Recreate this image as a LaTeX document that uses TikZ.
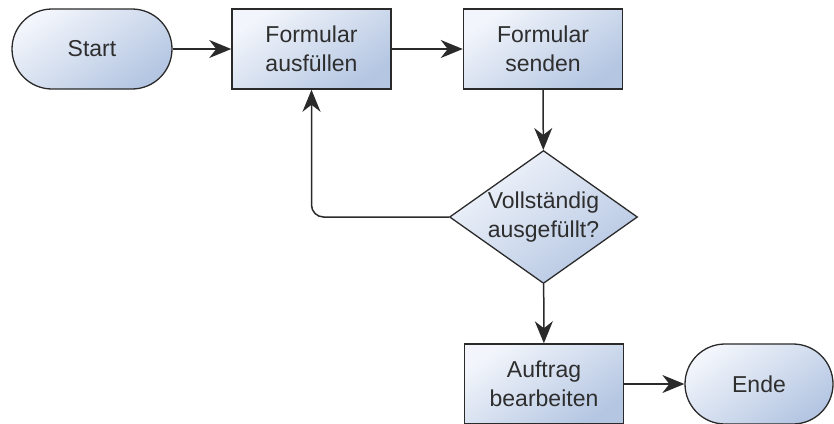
\documentclass[tikz,border=0pt]{standalone}
\usepackage{fontspec}
\setmainfont{Liberation Sans}
\usetikzlibrary{shapes.geometric,arrows.meta}
\definecolor{fillLight}{HTML}{F2F5FB}
\definecolor{fillDark}{HTML}{B4C6E2}
\definecolor{edge}{HTML}{2A2A2A}
\definecolor{ink}{HTML}{2E2E2E}

\begin{document}
\begin{tikzpicture}[x=1pt,y=-1pt,
  every node/.style={font=\fontsize{23}{29}\selectfont, text=ink, align=center},
  shaded/.style={draw=edge, top color=fillLight, bottom color=fillDark, shading angle=35},
  process/.style={shaded, rectangle, line width=1.5pt, minimum width=159pt, minimum height=80pt, inner sep=0pt},
  terminal/.style={shaded, rectangle, rounded corners=40pt, line width=1.3pt, minimum height=80pt, inner sep=0pt},
  decision/.style={shaded, diamond, line width=1.3pt, minimum width=188pt, minimum height=133pt, inner sep=0pt},
  flow/.style={draw=edge, line width=1.5pt, -{Stealth[length=22pt,width=18pt,inset=7pt]}}]

  % canvas
  \useasboundingbox (0,0) rectangle (834,423);

  % nodes
  \node[terminal, minimum width=160pt] (start) at (92,49) {Start};
  \node[process] (fill) at (311.5,49) {Formular\\ausfüllen};
  \node[process] (send) at (543,49) {Formular\\senden};
  \node[decision] (check) at (543.5,217) {};
  \node at (check) {Vollständig\\ausgefüllt?};
  \node[process] (work) at (544,384) {Auftrag\\bearbeiten};
  \node[terminal, minimum width=148pt] (end) at (759,384) {Ende};

  % connectors
  \draw[flow] (start) -- (fill);
  \draw[flow] (fill) -- (send);
  \draw[flow] (send) -- (check);
  \draw[flow] (check) -- (work);
  \draw[flow] (work) -- (end);
  \draw[flow, rounded corners=12pt] (check.west) -| (fill.south);
\end{tikzpicture}
\end{document}
